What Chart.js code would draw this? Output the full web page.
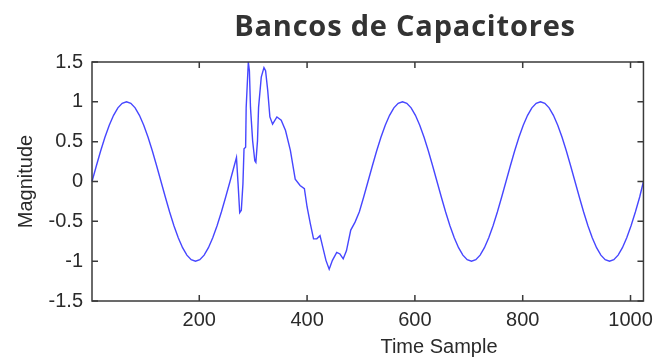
<!DOCTYPE html>
<html>
<head>
<meta charset="utf-8">
<script src="https://cdn.jsdelivr.net/npm/chart.js@4.4.1/dist/chart.umd.min.js"></script>
<style>
  body { margin: 0; background: #fff; }
  #wrap { position: relative; width: 660px; height: 358px; }
  #titulo {
    position: absolute; left: 0; top: 5px; width: 810px; text-align: center;
    font: bold 29px "Open Sans", sans-serif; letter-spacing: 0.8px; color: #333;
  }
  #ejeX {
    position: absolute; left: 0; top: 336px; width: 878px; text-align: center;
    font: 20px "Liberation Sans", sans-serif; line-height: 1; color: #2a2a2a;
  }
</style>
</head>
<body>
<div id="wrap">
  <canvas id="grafico" width="660" height="358"></canvas>
  <div id="titulo">Bancos de Capacitores</div>
  <div id="ejeX">Time Sample</div>
</div>
<script>
// Señal antes de la conmutación
const preSamples = [1, 9, 17, 25, 33, 41, 49, 57, 65, 73, 81, 89, 97, 105, 113, 121, 129,
  137, 145, 153, 161, 169, 177, 185, 193, 201, 209, 217, 225, 233, 241, 249, 257];
const preMag = [0, 0.195, 0.383, 0.556, 0.707, 0.831, 0.924, 0.981, 1, 0.981, 0.924, 0.831, 0.707, 0.556, 0.383, 0.195, 0,
  -0.195, -0.383, -0.556, -0.707, -0.831, -0.924, -0.981, -1, -0.981, -0.924, -0.831, -0.707, -0.556, -0.383, -0.195, 0];

// Transitorio al energizar el banco
const transSamples = [263, 269, 272, 275, 278, 281, 283, 286, 287, 291, 293, 295, 299, 303, 305, 308, 310,
  315, 320, 323, 327, 331, 336, 344, 352, 360, 369, 378, 387, 395, 400, 406, 412, 418, 424, 429,
  435, 441, 447, 455, 461, 467, 473, 481, 489, 497];
const transMag = [0.15, 0.30, -0.03, -0.39, -0.36, -0.03, 0.41, 0.43, 0.93, 1.5, 1.39, 0.93, 0.51, 0.26, 0.24, 0.51, 0.93,
  1.31, 1.43, 1.39, 1.14, 0.81, 0.72, 0.81, 0.77, 0.64, 0.39, 0.03, -0.05, -0.09, -0.32, -0.53, -0.72, -0.72, -0.68, -0.82,
  -0.99, -1.10, -0.99, -0.89, -0.91, -0.97, -0.87, -0.61, -0.51, -0.38];

// Señal después del transitorio
const postSamples = [505, 513, 521, 529, 537, 545, 553, 561, 569, 577, 585, 593, 601, 609, 617, 625, 633,
  641, 649, 657, 665, 673, 681, 689, 697, 705, 713, 721, 729, 737, 745, 753, 761,
  769, 777, 785, 793, 801, 809, 817, 825, 833, 841, 849, 857, 865, 873, 881, 889,
  897, 905, 913, 921, 929, 937, 945, 953, 961, 969, 977, 985, 993, 1001, 1009, 1017, 1024];
const postMag = [-0.195, 0, 0.195, 0.383, 0.556, 0.707, 0.831, 0.924, 0.981, 1, 0.981, 0.924, 0.831, 0.707, 0.556, 0.383, 0.195,
  0, -0.195, -0.383, -0.556, -0.707, -0.831, -0.924, -0.981, -1, -0.981, -0.924, -0.831, -0.707, -0.556, -0.383, -0.195,
  0, 0.195, 0.383, 0.556, 0.707, 0.831, 0.924, 0.981, 1, 0.981, 0.924, 0.831, 0.707, 0.556, 0.383, 0.195,
  0, -0.195, -0.383, -0.556, -0.707, -0.831, -0.924, -0.981, -1, -0.981, -0.924, -0.831, -0.707, -0.556, -0.383, -0.195, 0];

const xTicks = [200, 400, 600, 800, 1000];
const yTicks = [-1.5, -1, -0.5, 0, 0.5, 1, 1.5];

const samples = preSamples.concat(transSamples, postSamples);
const magnitude = preMag.concat(transMag, postMag);
const puntos = samples.map((s, i) => ({ x: s, y: magnitude[i] }));

// Marco y marcas hacia adentro, estilo MATLAB
const marco = {
  id: 'marco',
  afterDraw(chart) {
    const { ctx, chartArea: a, scales } = chart;
    ctx.save();
    ctx.strokeStyle = '#3a3a3a';
    ctx.lineWidth = 1.5;
    ctx.strokeRect(a.left, a.top, a.right - a.left, a.bottom - a.top);
    ctx.beginPath();
    xTicks.forEach(t => {
      const px = scales.x.getPixelForValue(t);
      ctx.moveTo(px, a.bottom); ctx.lineTo(px, a.bottom - 6);
      ctx.moveTo(px, a.top); ctx.lineTo(px, a.top + 6);
    });
    yTicks.forEach(t => {
      const py = scales.y.getPixelForValue(t);
      ctx.moveTo(a.left, py); ctx.lineTo(a.left + 6, py);
      ctx.moveTo(a.right, py); ctx.lineTo(a.right - 6, py);
    });
    ctx.stroke();
    ctx.restore();
  }
};

const fuente = { family: 'Liberation Sans', size: 20 };

new Chart(document.getElementById('grafico'), {
  type: 'line',
  data: {
    datasets: [{
      data: puntos,
      borderColor: 'rgba(50, 50, 255, 0.9)',
      borderWidth: 1.4,
      pointRadius: 0,
      tension: 0,
      clip: false
    }]
  },
  options: {
    responsive: false,
    animation: false,
    layout: { padding: { left: 14, right: 10, top: 62, bottom: 0 } },
    plugins: { legend: { display: false }, tooltip: { enabled: false } },
    scales: {
      x: {
        type: 'linear',
        min: 1,
        max: 1024,
        afterBuildTicks: s => { s.ticks = xTicks.map(v => ({ value: v })); },
        afterFit: s => { s.height = 57; },
        grid: { display: false, drawTicks: false },
        border: { display: false },
        ticks: { color: '#2a2a2a', font: fuente, padding: 7, maxRotation: 0, callback: v => String(v) }
      },
      y: {
        min: -1.5,
        max: 1.5,
        afterBuildTicks: s => { s.ticks = yTicks.map(v => ({ value: v })); },
        afterFit: s => { s.width = 78; },
        grid: { display: false, drawTicks: false },
        border: { display: false },
        ticks: { color: '#2a2a2a', font: fuente, padding: 9, callback: v => String(v) },
        title: { display: true, text: 'Magnitude', color: '#2a2a2a', font: fuente, padding: { top: 0, bottom: 0 } }
      }
    }
  },
  plugins: [marco]
});
</script>
</body>
</html>
